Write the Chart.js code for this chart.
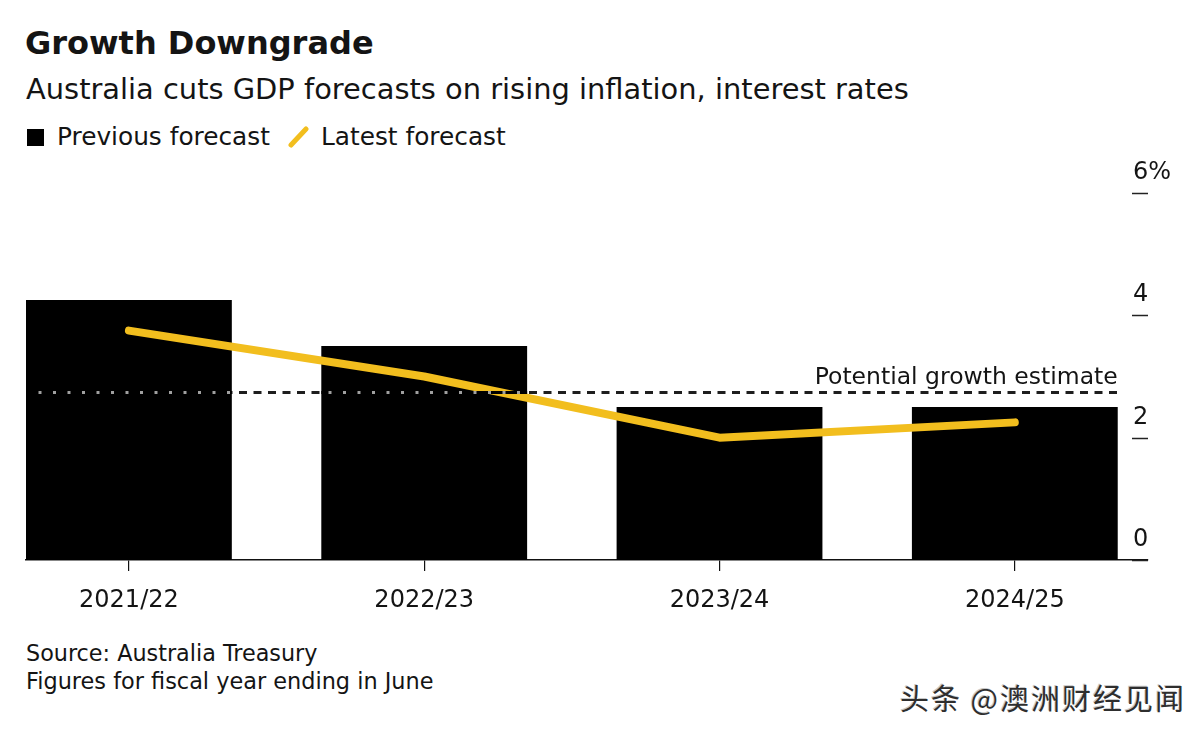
<!DOCTYPE html>
<html>
<head>
<meta charset="utf-8">
<script src="https://cdn.jsdelivr.net/npm/chart.js@4.4.1/dist/chart.umd.min.js"></script>
<style>
  html, body { margin: 0; padding: 0; }
  body {
    width: 1204px; height: 738px; position: relative; overflow: hidden;
    background: #fff; font-family: 'DejaVu Sans', sans-serif; color: #141414;
  }
  .txt { position: absolute; line-height: 1; white-space: nowrap; }
  #title { left: 25px; top: 27px; font-size: 32px; font-weight: bold; }
  #subtitle { left: 26px; top: 75px; font-size: 28.9px; }
  #legend { left: 27px; top: 125px; font-size: 24.8px; }
  #legend .sq { display: inline-block; width: 17px; height: 17px; background: #000; margin-right: 13px; vertical-align: -1px; }
  #legend svg { vertical-align: -3px; margin: 0 11px 0 18px; }
  #source { left: 26px; top: 642px; font-size: 22.3px; }
  #note { left: 26px; top: 670px; font-size: 22.4px; }
  #mark {
    left: 900px; top: 683px; font-size: 29px; color: #2e2e2e;
    font-family: 'Noto Sans CJK SC', sans-serif; letter-spacing: 2px;
    text-shadow: 1px 1px 0 #fff, -1px -1px 0 #c8c8c8;
  }
  #chartBox { position: absolute; left: 0; top: 150px; width: 1204px; height: 480px; }
</style>
</head>
<body>
<div id="title" class="txt">Growth Downgrade</div>
<div id="subtitle" class="txt">Australia cuts GDP forecasts on rising inflation, interest rates</div>
<div id="legend" class="txt"><span class="sq"></span>Previous forecast<svg width="22" height="22" viewBox="0 0 22 22"><line x1="3" y1="19" x2="18" y2="3" stroke="#F2BE1E" stroke-width="5" stroke-linecap="round"/></svg>Latest forecast</div>
<div id="chartBox"><canvas id="grafico" width="1204" height="480"></canvas></div>
<div id="source" class="txt">Source: Australia Treasury</div>
<div id="note" class="txt">Figures for fiscal year ending in June</div>
<div id="mark" class="txt">头条 @澳洲财经见闻</div>

<script>
'use strict';

// Dati (% crescita PIL)
const fiscalYears      = ['2021/22', '2022/23', '2023/24', '2024/25'];
const previousForecast = [4.25, 3.5, 2.5, 2.5];
const latestForecast   = [3.75, 3.0, 2.0, 2.25];
const potentialGrowth  = 2.75;
const yTickValues      = [0, 2, 4, 6];
const yTickLabels      = ['0', '2', '4', '6%'];

const YELLOW = '#F2BE1E';
const INK = '#141414';
const FONT = "'DejaVu Sans', sans-serif";

// Asse destro: trattini + etichette sopra il trattino
const rightAxisPlugin = {
  id: 'rightAxis',
  afterDraw(chart) {
    const { ctx, chartArea, scales } = chart;
    ctx.save();
    ctx.strokeStyle = '#222';
    ctx.lineWidth = 1.5;
    ctx.fillStyle = INK;
    ctx.font = '24px ' + FONT;
    ctx.textAlign = 'left';
    ctx.textBaseline = 'alphabetic';
    yTickValues.forEach((v, i) => {
      const y = Math.round(scales.y.getPixelForValue(v)) + 0.5;
      ctx.beginPath();
      ctx.moveTo(chartArea.right - 16, y);
      ctx.lineTo(chartArea.right, y);
      ctx.stroke();
      ctx.fillText(yTickLabels[i], chartArea.right - 15, y - 15);
    });
    ctx.restore();
  }
};

// Linea tratteggiata della crescita potenziale
const potentialPlugin = {
  id: 'potential',
  afterDatasetsDraw(chart) {
    const { ctx, chartArea, scales } = chart;
    const bars = chart.getDatasetMeta(1).data;
    const y = Math.round(scales.y.getPixelForValue(potentialGrowth)) + 0.5;
    const last = bars[bars.length - 1];
    const x0 = chartArea.left + 10;
    const x1 = last.x + last.width / 2;

    ctx.save();
    ctx.lineWidth = 3;
    ctx.setLineDash([8, 6.5]);
    ctx.strokeStyle = '#1e1e1e';
    ctx.beginPath();
    ctx.moveTo(x0, y);
    ctx.lineTo(x1, y);
    ctx.stroke();

    // sopra le barre nere solo puntini grigi
    ctx.beginPath();
    bars.forEach(b => {
      ctx.rect(b.x - b.width / 2, b.y, b.width, b.base - b.y);
    });
    ctx.clip();
    ctx.strokeStyle = '#000';
    ctx.setLineDash([]);
    ctx.beginPath();
    ctx.moveTo(x0, y);
    ctx.lineTo(x1, y);
    ctx.stroke();
    ctx.strokeStyle = '#a0a0a0';
    ctx.setLineDash([3, 11.5]);
    ctx.lineDashOffset = -2.5;
    ctx.beginPath();
    ctx.moveTo(x0, y);
    ctx.lineTo(x1, y);
    ctx.stroke();
    ctx.restore();

    ctx.save();
    ctx.fillStyle = INK;
    ctx.font = '23.5px ' + FONT;
    ctx.textAlign = 'right';
    ctx.textBaseline = 'alphabetic';
    ctx.fillText('Potential growth estimate', x1, y - 9);
    ctx.restore();
  }
};

const ctx = document.getElementById('grafico').getContext('2d');

new Chart(ctx, {
  type: 'bar',
  data: {
    datasets: [
      {
        type: 'line',
        label: 'Latest forecast',
        data: latestForecast.map((v, i) => ({ x: i, y: v })),
        borderColor: YELLOW,
        borderWidth: 8,
        borderCapStyle: 'round',
        borderJoinStyle: 'round',
        pointRadius: 0,
        tension: 0,
        order: 0
      },
      {
        label: 'Previous forecast',
        data: previousForecast.map((v, i) => ({ x: i, y: v })),
        backgroundColor: '#000',
        borderWidth: 0,
        categoryPercentage: 1,
        barPercentage: 0.697,
        order: 1
      }
    ]
  },
  options: {
    responsive: false,
    animation: false,
    layout: { padding: { top: 43, left: 26, right: 56, bottom: 0 } },
    plugins: {
      legend: { display: false },
      tooltip: { enabled: false }
    },
    scales: {
      x: {
        type: 'linear',
        offset: false,
        min: -0.3485,
        max: 3.451,
        bounds: 'data',
        afterBuildTicks: s => { s.ticks = fiscalYears.map((_, i) => ({ value: i })); },
        afterFit: s => { s.height = 70; },
        border: { display: true, color: '#111', width: 1.5 },
        grid: { offset: false, drawOnChartArea: false, drawTicks: true, tickLength: 11, color: '#111', lineWidth: 1.2 },
        ticks: {
          autoSkip: false,
          maxRotation: 0,
          padding: 15,
          color: INK,
          font: { family: FONT, size: 24 },
          callback: v => fiscalYears[v] || ''
        }
      },
      y: {
        display: false,
        min: 0,
        max: 6
      }
    }
  },
  plugins: [potentialPlugin, rightAxisPlugin]
});
</script>
</body>
</html>
